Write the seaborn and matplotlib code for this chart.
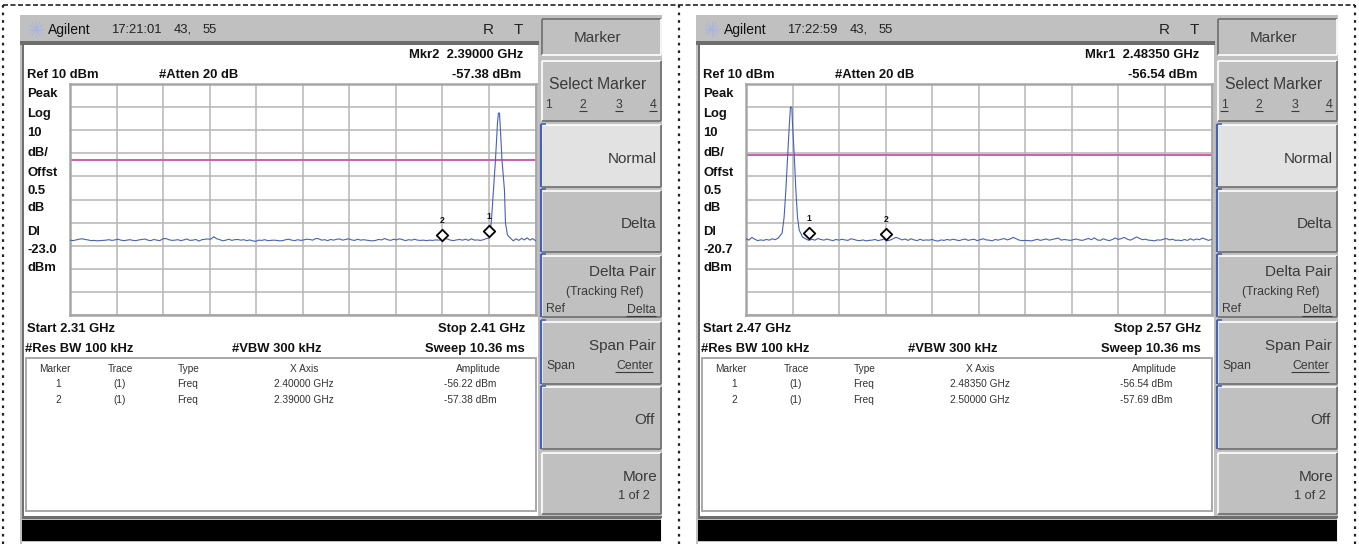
import numpy as np
import pandas as pd
import matplotlib
matplotlib.use("Agg")
import matplotlib.pyplot as plt
from matplotlib.patches import Rectangle
import seaborn as sns

sns.set_style("white")
plt.rcParams['font.family'] = ['Liberation Sans', 'DejaVu Sans']

# ---------- data ----------
left_floor_a = [
 -57.6,-57.8,-57.5,-57.2,-57.0,-57.3,-57.5,-57.8,-57.7,-57.9,-57.8,-57.7,-57.6,-57.4,
 -57.7,-57.5,-57.2,-57.6,-57.8,-57.6,-57.4,-57.7,-57.8,-57.5,-57.3,-57.1,-57.6,-57.8,
 -57.3,-57.6,-57.8,-57.0,-56.9,-57.4,-57.7,-57.6,-57.4,-57.8,-57.5,-57.1,-57.7,-57.6,
 -57.3,-58.0,-57.4,-57.2,-57.1,-57.2,-56.1,-57.0,-57.4,-57.9,-57.6,-57.2,-57.7,-57.4,
 -57.3,-57.6,-57.4,-57.8,-57.5,-57.9,-58.1,-57.6,-57.7,-57.4,-57.8,-57.7,-57.6,-57.7,
 -57.9,-57.8,-57.4,-57.2,-57.6,-57.8,-57.4,-57.7,-57.5,-57.2,-57.3,-57.6,-56.9,-57.0,
 -57.6,-57.4,-57.8,-57.3,-57.6,-57.2,-57.1,-57.6,-57.3,-57.0,-57.5,-57.7,-57.2,-57.6,
 -57.4,-57.6,-57.8,-57.9,-57.7,-57.3,-57.5,-56.9,-57.4,-57.7,-57.2,-57.5,-57.0,-57.4,
 -57.8,-57.4,-57.6,-57.2,-57.6,-57.7,-57.6,-57.8,-57.6,-57.7,-57.5,-57.6,-57.4,-56.9,
 -57.1,-57.6,-57.8,-57.5,-57.3,-57.6,-57.2,-57.7,-57.0,-57.6,-57.5,-57.7,-57.4,-56.9,
]
left_peak_freq = [2.40011, 2.40054, 2.40097, 2.40140, 2.40183, 2.40204, 2.40226,
                  2.40247, 2.40280, 2.40333, 2.40355, 2.40398, 2.40462]
left_peak_dbm = [-56.7, -48.9, -35.9, -22.9, -6.9, -2.6, -2.6,
                 -9.9, -22.9, -35.9, -50.2, -55.4, -56.7]
left_floor_b = [-57.9, -57.0, -57.7, -56.8, -57.5, -56.6, -57.6, -56.9, -57.8]

right_floor_a = [-57.0,-57.6,-56.4,-57.2,-57.8,-57.5,-57.7,-57.3,-57.6,-57.0,-57.4]
right_peak_freq = [2.47690, 2.47776, 2.47819, 2.47856, 2.47899, 2.47933, 2.47955, 2.47985,
                   2.47998, 2.48034, 2.48071, 2.48106, 2.48142, 2.48213, 2.48287]
right_peak_dbm = [-56.7, -54.5, -47.6, -35.9, -19.9, -6.9, 0.0, 0.0,
                  -6.9, -19.9, -35.9, -47.6, -53.2, -56.2, -57.1]
right_floor_b = [
 -57.7,-57.2,-57.6,-56.9,-57.3,-57.6,-57.1,-57.5,-57.8,-57.3,-57.6,-57.2,-57.5,-57.7,
 -57.0,-57.3,-57.7,-57.8,-57.5,-57.9,-57.7,-57.6,-57.3,-57.8,-57.5,-57.2,-57.9,-57.6,
 -57.0,-56.4,-56.9,-57.5,-57.1,-57.7,-57.0,-57.5,-57.8,-57.2,-57.7,-57.5,-57.6,-57.3,
 -57.8,-58.0,-57.5,-57.7,-57.3,-57.6,-57.2,-57.5,-57.8,-57.4,-57.1,-57.7,-57.4,-57.2,
 -57.8,-57.4,-57.0,-57.5,-57.6,-57.9,-57.3,-57.6,-57.2,-56.9,-57.5,-57.1,-56.4,-57.0,
 -57.6,-57.8,-57.7,-57.8,-57.9,-57.6,-57.2,-57.7,-57.4,-57.1,-57.6,-57.3,-57.0,-56.7,
 -57.6,-57.3,-57.5,-57.7,-57.4,-57.1,-57.5,-57.7,-57.3,-56.9,-57.4,-56.6,-57.5,-57.7,
 -57.0,-57.5,-57.8,-57.3,-56.7,-57.3,-56.9,-56.4,-57.2,-57.6,-57.0,-56.2,-56.8,-57.4,
 -57.2,-57.6,-57.7,-57.9,-57.5,-57.6,-57.2,-56.9,-57.5,-57.2,-57.7,-57.6,-57.8,-57.3,
 -57.7,-57.0,-57.6,-57.1,-57.4,-56.7,-57.2,-57.7,-57.3,
]

left_marker_freq = [2.40000, 2.39000]
left_marker_drawn = [-53.6, -55.4]
right_marker_freq = [2.48350, 2.50000]
right_marker_drawn = [-54.4, -55.1]
marker_ids = ["1", "2"]

panels = [
    dict(clock="17:21:01", head_f="Mkr2  2.39000 GHz", head_a="-57.38 dBm", dl=-23.0,
         start=2.31, stop=2.41,
         rows=[("1", "2.40000 GHz", "-56.22 dBm"), ("2", "2.39000 GHz", "-57.38 dBm")],
         floor_a=left_floor_a, peak_f=left_peak_freq, peak_d=left_peak_dbm, floor_b=left_floor_b,
         mf=left_marker_freq, md=left_marker_drawn, under=[2, 3, 4]),
    dict(clock="17:22:59", head_f="Mkr1  2.48350 GHz", head_a="-56.54 dBm", dl=-20.7,
         start=2.47, stop=2.57,
         rows=[("1", "2.48350 GHz", "-56.54 dBm"), ("2", "2.50000 GHz", "-57.69 dBm")],
         floor_a=right_floor_a, peak_f=right_peak_freq, peak_d=right_peak_dbm, floor_b=right_floor_b,
         mf=right_marker_freq, md=right_marker_drawn, under=[1, 2, 3, 4]),
]
panel_dx = [0, 676]
side_labels = [("Peak", 93), ("Log", 113), ("10", 132), ("dB/", 152), ("Offst", 172),
               ("0.5", 190), ("dB", 207), ("Dl", 231), (None, 249), ("dBm", 267)]

# ---------- figure ----------
W, H = 1359, 544
fig = plt.figure(figsize=(W / 100, H / 100), dpi=100, facecolor="white")
bg = fig.add_axes([0, 0, 1, 1], zorder=0)
bg.set_xlim(0, W)
bg.set_ylim(H, 0)
bg.axis("off")

GRAY = "#c0c0c0"
DARK = "#6e6e6e"
BLUE = "#4662b4"
TXT = "#1a1a1a"
KEY = "#3a3a3a"


def rect(x0, y0, x1, y1, fc, z=1):
    bg.add_patch(Rectangle((x0, y0), x1 - x0, y1 - y0, fc=fc, ec="none", zorder=z))


def seg(x0, y0, x1, y1, c, lw=1.0, z=3, **kw):
    bg.plot([x0, x1], [y0, y1], color=c, lw=lw, zorder=z, solid_capstyle="butt", **kw)


def txt(x, y, s, size=9.6, ha="left", weight="normal", color=TXT):
    bg.text(x, y + 0.7, s, fontsize=size, ha=ha, va="center", fontweight=weight, color=color, zorder=5)


def softkey(x0, y0, x1, y1, fc=GRAY, pressed=False):
    rect(x0, y0, x1, y1, fc, 2)
    a, b = (DARK, "white") if pressed else ("white", DARK)
    seg(x0, y0, x1, y0, a, 1.2)
    seg(x0, y0, x0, y1, a, 1.2)
    seg(x0, y1, x1, y1, b, 1.2)
    seg(x1, y0, x1, y1, b, 1.2)


# outer cut-lines
bg.plot([3, 1355], [5, 5], color="#222222", lw=1.2, ls=(0, (3, 1.5)), zorder=1)
for vx in (3, 679, 1355):
    bg.plot([vx, vx], [5, 544], color="#222222", lw=1.6, ls=(0, (1.2, 2.2)), zorder=1)

for p, dx in zip(panels, panel_dx):
    # frame
    rect(20 + dx, 15, 662 + dx, 544, GRAY, 1)
    rect(24 + dx, 44, 538 + dx, 516, "white", 1.5)
    rect(20 + dx, 41, 539 + dx, 44.5, DARK, 2)
    seg(23 + dx, 44, 23 + dx, 518, DARK, 1.4)
    rect(22 + dx, 516, 662 + dx, 519, DARK, 2)
    rect(22 + dx, 520, 661 + dx, 541, "black", 2)
    rect(22 + dx, 542, 661 + dx, 544, "white", 2)
    seg(662 + dx, 518, 662 + dx, 544, "white", 1.2)

    # title bar
    cx, cy = 36 + dx, 29
    for ang in np.deg2rad([0, 30, 60, 90, 120, 150]):
        seg(cx - 8 * np.cos(ang), cy - 8 * np.sin(ang), cx + 8 * np.cos(ang), cy + 8 * np.sin(ang),
            "#aab4e2", 0.7)
    txt(48 + dx, 29, "Agilent", 10, color="#111111")
    txt(111 + dx, 29, p["clock"], 9.4, color="#222222")
    txt(174 + dx, 29, "43,", 9.4, color="#222222")
    txt(203 + dx, 29, "55", 9.4, color="#222222")
    txt(488 + dx, 29, "R", 11, ha="center", color="#222222")
    txt(518 + dx, 29, "T", 11, ha="center", color="#222222")

    # header / footer annotation
    b = dict(size=9.35, weight="bold", color="#111111")
    txt(523 + dx, 54, p["head_f"], ha="right", **b)
    txt(27 + dx, 74, "Ref 10 dBm", **b)
    txt(159 + dx, 74, "#Atten 20 dB", **b)
    txt(521 + dx, 74, p["head_a"], ha="right", **b)
    for lab, y in side_labels:
        txt(27 + dx, y, lab if lab else f"{p['dl']:.1f}", **b)
    txt(27 + dx, 328, f"Start {p['start']:.2f} GHz", **b)
    txt(525 + dx, 328, f"Stop {p['stop']:.2f} GHz", ha="right", **b)
    txt(25 + dx, 348, "#Res BW 100 kHz", **b)
    txt(232 + dx, 348, "#VBW 300 kHz", **b)
    txt(525 + dx, 348, "Sweep 10.36 ms", ha="right", **b)

    # marker table
    bg.add_patch(Rectangle((25.5 + dx, 357.5), 510, 153, fc="white", ec="#a8a8a8", lw=1.4, zorder=2))
    t = dict(size=7.3, ha="center", color="#333333")
    for x, s in zip((55, 120, 189, 304, 478), ("Marker", "Trace", "Type", "X Axis", "Amplitude")):
        txt(x + dx, 368, s, **t)
    for (mid, xv, amp), y in zip(p["rows"], (383, 399)):
        txt(58 + dx, y, mid, **t)
        txt(120 + dx, y, "(1)", **t)
        txt(188 + dx, y, "Freq", **t)
        txt(304 + dx, y, xv, **t)
        txt(470 + dx, y, amp, **t)

    # soft keys
    softkey(542 + dx, 19, 661 + dx, 55, pressed=True)
    softkey(542 + dx, 61, 661 + dx, 121)
    softkey(542 + dx, 125, 661 + dx, 187, fc="#e2e2e2")
    softkey(542 + dx, 191, 661 + dx, 252)
    softkey(542 + dx, 256, 661 + dx, 317)
    softkey(542 + dx, 322, 661 + dx, 384)
    softkey(542 + dx, 387, 661 + dx, 449)
    softkey(542 + dx, 453, 661 + dx, 514)
    for y0, y1 in ((124, 187), (189, 252), (254, 317), (320, 384), (386, 449)):
        seg(541 + dx, y0, 541 + dx, y1, BLUE, 1.6, z=4)
        seg(541 + dx, y0, 546 + dx, y0, BLUE, 1.2, z=4)

    k = dict(color=KEY)
    txt(598 + dx, 37, "Marker", 11, ha="center", **k)
    txt(598 + dx, 84, "Select Marker", 11.3, ha="center", **k)
    for n, x in zip((1, 2, 3, 4), (548, 583, 619, 653)):
        txt(x + dx, 104, str(n), 8.8, ha="center", **k)
        if n in p["under"]:
            seg(x - 4 + dx, 111, x + 4 + dx, 111, KEY, 0.8, z=5)
    txt(657 + dx, 158, "Normal", 11, ha="right", **k)
    txt(656 + dx, 223, "Delta", 11, ha="right", **k)
    txt(656 + dx, 271, "Delta Pair", 11, ha="right", **k)
    txt(605 + dx, 291, "(Tracking Ref)", 8.8, ha="center", **k)
    txt(546 + dx, 308, "Ref", 8.8, **k)
    txt(656 + dx, 309, "Delta", 8.8, ha="right", **k)
    seg(626 + dx, 316, 656 + dx, 316, KEY, 0.8, z=5)
    txt(656 + dx, 345, "Span Pair", 11, ha="right", **k)
    txt(546 + dx, 365, "Span", 8.8, **k)
    txt(653 + dx, 365, "Center", 8.8, ha="right", **k)
    seg(615 + dx, 372, 653 + dx, 372, KEY, 0.8, z=5)
    txt(655 + dx, 419, "Off", 11, ha="right", **k)
    txt(657 + dx, 476, "More", 11, ha="right", **k)
    txt(650 + dx, 495, "1 of 2", 9.2, ha="right", **k)

    # ---------- spectrum trace ----------
    ax = fig.add_axes([(70 + dx) / W, 1 - 315 / H, 465.5 / W, 231 / H], zorder=3)
    ax.patch.set_alpha(0)
    f_a = np.linspace(p["start"], p["peak_f"][0], len(p["floor_a"]), endpoint=False)
    f_b = np.linspace(p["peak_f"][-1], p["stop"], len(p["floor_b"]) + 1)[1:]
    trace = pd.DataFrame({
        "freq": np.concatenate([f_a, p["peak_f"], f_b]),
        "dbm": np.concatenate([p["floor_a"], p["peak_d"], p["floor_b"]]),
    })
    ax.axhline(p["dl"], color="#c95fb0", lw=1.4, zorder=2)
    sns.lineplot(data=trace, x="freq", y="dbm", ax=ax, color=BLUE, lw=0.8,
                 estimator=None, sort=False, zorder=3)
    marks = pd.DataFrame({"freq": p["mf"], "dbm": p["md"]})
    sns.scatterplot(data=marks, x="freq", y="dbm", ax=ax, marker="D", s=34, color="white",
                    edgecolor="black", linewidth=1.3, zorder=4, clip_on=False)
    for m, (fq, db) in zip(marker_ids, zip(p["mf"], p["md"])):
        ax.annotate(m, (fq, db), xytext=(0, 10.5), textcoords="offset points", fontsize=6.2,
                    ha="center", va="center", color="#111111", fontweight="bold", zorder=5)
    ax.set_xlim(p["start"], p["stop"])
    ax.set_ylim(-90, 10)
    ax.set_xticks(np.linspace(p["start"], p["stop"], 11))
    ax.set_yticks(np.arange(-90, 11, 10))
    ax.set_xlabel("")
    ax.set_ylabel("")
    ax.tick_params(left=False, bottom=False, labelleft=False, labelbottom=False)
    ax.grid(True, color="#b8b8b8", lw=1.15, zorder=1)
    ax.set_axisbelow(True)
    for s in ax.spines.values():
        s.set_color("#a6a6a6")
        s.set_linewidth(1.8)

fig.savefig("out.png", dpi=100, facecolor="white")
